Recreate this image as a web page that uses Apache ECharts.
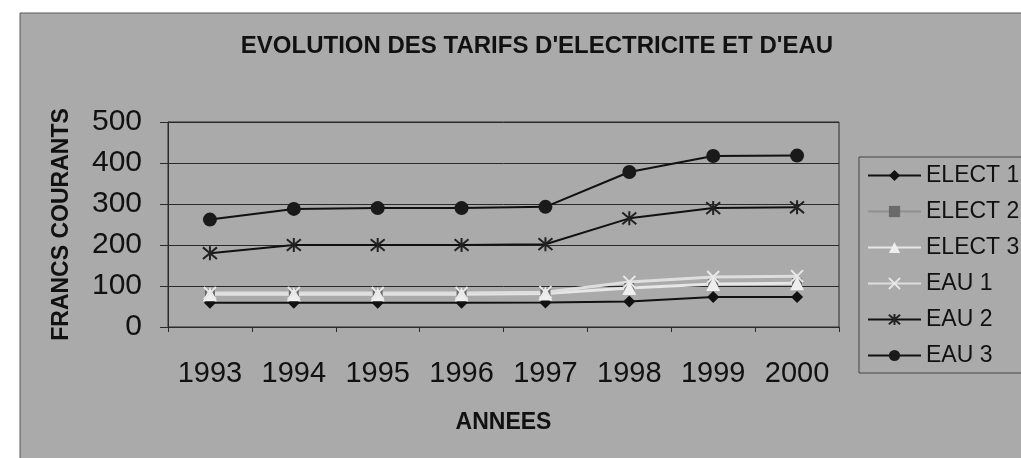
<!DOCTYPE html>
<html>
<head>
<meta charset="utf-8">
<script src="https://cdn.jsdelivr.net/npm/echarts@6/dist/echarts.min.js"></script>
<style>
html,body{margin:0;padding:0;background:#ffffff;}
#chart{width:1021px;height:458px;}
</style>
</head>
<body>
<div id="chart"></div>
<script>
const years = ['1993','1994','1995','1996','1997','1998','1999','2000'];
const elect1 = [59, 59, 59, 59, 60, 62, 73, 73];
const elect2 = [80, 80, 80, 80, 82, 95, 105, 107];
const elect3 = [80, 80, 80, 80, 82, 95, 105, 107];
const eau1 = [83, 83, 83, 83, 85, 110, 122, 124];
const eau2 = [180, 200, 200, 200, 202, 265, 290, 292];
const eau3 = [262, 288, 290, 290, 293, 378, 417, 418];
const yTicks = [0, 100, 200, 300, 400, 500];

const FONT = '"Liberation Sans", Arial, sans-serif';
const xPath = 'path://M0,0 L10,10 M10,0 L0,10';
const starPath = 'path://M0,0 L10,10 M10,0 L0,10 M5,-1 L5,11';

const chart = echarts.init(document.getElementById('chart'), null, {renderer: 'canvas'});

function mk(name, data, color, lineColor, symbol, size, width, symbolStyle) {
  return {
    name: name, type: 'line', data: data,
    symbol: symbol, symbolSize: size,
    lineStyle: {color: lineColor, width: width},
    itemStyle: Object.assign({color: color}, symbolStyle || {}),
    emphasis: {disabled: true},
    animation: false
  };
}

chart.setOption({
  backgroundColor: '#ffffff',
  animation: false,
  graphic: [{
    type: 'rect', z: -10, silent: true,
    shape: {x: 20, y: 13, width: 1010, height: 450},
    style: {fill: '#aaaaaa', stroke: '#5a5a5a', lineWidth: 1}
  }],
  title: {
    text: "EVOLUTION DES TARIFS D'ELECTRICITE ET D'EAU",
    left: 532, top: 29, textAlign: 'center',
    textStyle: {fontFamily: FONT, fontSize: 24, fontWeight: 'bold', color: '#111'}
  },
  grid: {
    left: 168, top: 122, right: 182, bottom: 131,
    show: true, borderColor: '#2a2a2a', borderWidth: 1, backgroundColor: 'transparent'
  },
  legend: {
    orient: 'vertical', left: 859, top: 157,
    padding: [7, 200, 6, 8],
    borderColor: '#444', borderWidth: 1,
    itemWidth: 53, itemHeight: 14, itemGap: 13,
    textStyle: {fontFamily: FONT, fontSize: 23, color: '#111'},
    data: ['ELECT 1','ELECT 2','ELECT 3','EAU 1','EAU 2','EAU 3']
  },
  xAxis: {
    type: 'category', data: years, boundaryGap: true,
    name: 'ANNEES', nameLocation: 'middle', nameGap: 84,
    nameTextStyle: {fontFamily: FONT, fontSize: 23, fontWeight: 'bold', color: '#111'},
    axisLine: {lineStyle: {color: '#2a2a2a', width: 1}},
    axisTick: {show: true, length: 5, lineStyle: {color: '#2a2a2a'}},
    axisLabel: {fontFamily: FONT, fontSize: 29, color: '#111', margin: 32}
  },
  yAxis: {
    type: 'value', min: 0, max: 500, interval: 100,
    name: 'FRANCS COURANTS', nameLocation: 'middle', nameGap: 95, nameRotate: 90,
    nameTextStyle: {fontFamily: FONT, fontSize: 23, fontWeight: 'bold', color: '#111'},
    axisLine: {show: true, lineStyle: {color: '#2a2a2a', width: 1}},
    axisTick: {show: true, length: 8, lineStyle: {color: '#2a2a2a'}},
    axisLabel: {fontFamily: FONT, fontSize: 30, color: '#111', margin: 26,
      formatter: function (v) { return yTicks.indexOf(v) >= 0 ? String(v) : ''; }},
    splitLine: {show: true, lineStyle: {color: '#2a2a2a', width: 1}}
  },
  series: [
    mk('ELECT 1', elect1, '#111', '#111', 'diamond', 12, 2),
    mk('ELECT 2', elect2, '#6a6a6a', '#909090', 'rect', 10, 2),
    mk('ELECT 3', elect3, '#eeeeee', '#e6e6e6', 'triangle', 14, 3),
    mk('EAU 1', eau1, '#e8e8e8', '#dedede', xPath, 12, 3, {borderColor: '#e8e8e8', borderWidth: 2}),
    mk('EAU 2', eau2, '#222', '#111', starPath, 14, 2, {borderColor: '#222', borderWidth: 2}),
    mk('EAU 3', eau3, '#1a1a1a', '#111', 'circle', 14, 2)
  ]
});
</script>
</body>
</html>
